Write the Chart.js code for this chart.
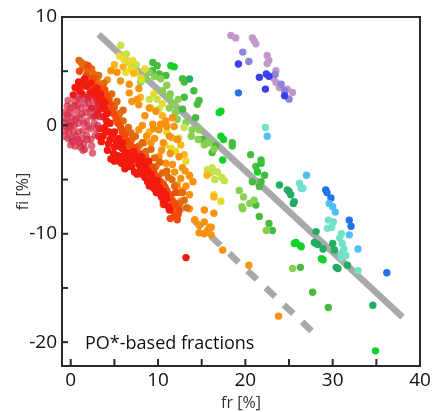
<!DOCTYPE html>
<html>
<head>
<meta charset="utf-8">
<script src="https://cdn.jsdelivr.net/npm/chart.js@4/dist/chart.umd.min.js"></script>
<style>
  html, body { margin: 0; padding: 0; background: #fff; }
  #wrap { width: 437px; height: 412px; }
</style>
</head>
<body>
<div id="wrap"><canvas id="chart" width="437" height="412"></canvas></div>
<script>
// axis ticks
const xTicks = [0, 5, 10, 15, 20, 25, 30, 35, 40];
const yTicks = [-20, -15, -10, -5, 0, 5, 10];

// gray reference lines (fr, fi)
const solidLineX = [3.2, 38.0];
const solidLineY = [8.4, -17.7];
const dashLineX = [9.8, 27.9];
const dashLineY = [-5.5, -19.2];

// points per colour group, [fr, fi]
const crimsonPts = [[-0.6,0.3],[-0.6,-0.5],[-0.4,1.0],[-0.3,-1.2],[-0.2,0.0],[0.0,1.6],[0.0,-1.8],[0.2,0.7],[0.3,-0.6],
  [0.5,2.2],[0.5,-1.9],[0.7,1.3],[0.8,-1.3],[0.9,0.2],[1.1,2.4],[1.1,-2.0],[1.3,1.0],[1.4,-0.5],[1.6,2.0],[1.6,-2.2],
  [1.8,0.4],[1.9,-1.3],[2.1,1.5],[2.2,-0.3],[2.4,-1.9],[2.5,2.3],[2.6,0.8],[2.8,-0.9],[3.0,1.8],[3.1,0.0],[-0.4,1.8],
  [0.1,-1.2],[2.5,-2.55],[-0.7,-1.0],[-0.7,1.2],[-0.5,0.6],[-0.5,-0.1],[-0.2,-0.6],[-0.1,1.2],[0.1,0.3],[0.2,-1.5],
  [0.4,1.8],[0.4,0.0],[0.6,-1.0],[0.6,0.6],[0.8,1.9],[0.9,-0.6],[1.0,-1.6],[1.0,0.7],[1.2,1.6],[1.3,-1.2],[1.5,0.2],
  [1.5,-1.7],[1.7,1.2],[1.8,-0.9],[2.0,2.1],[2.0,-0.1],[2.3,0.9],[2.3,-1.3],[2.7,1.5],[2.7,0.2],[2.9,-0.3],[3.3,0.8],
  [1.8,2.5],[0.9,2.6],[1.4,-2.3],[-0.3,2.3]];
const redPts = [[0.3,2.8],[0.8,3.4],[1.3,2.9],[1.8,3.6],[2.0,2.6],[2.6,3.2],[3.0,2.4],[3.4,2.9],[0.9,4.0],[1.6,4.3],
  [3.4,1.6],[3.9,2.1],[3.7,0.8],[4.2,1.1],[4.5,0.2],[3.3,-0.3],[4.0,-0.6],[3.5,-1.5],[4.5,-1.3],[5.0,-0.6],[4.2,-2.3],
  [5.0,-2.0],[5.5,-1.2],[4.6,-3.1],[5.4,-2.8],[6.0,-2.2],[6.3,-3.3],[6.2,-4.0],[6.8,-2.8],[7.0,-3.8],[7.5,-3.2],
  [7.6,-4.5],[8.0,-4.0],[8.3,-3.4],[8.5,-4.8],[8.8,-4.2],[9.0,-5.6],[9.3,-4.9],[9.6,-5.4],[9.8,-6.2],[10.1,-5.7],
  [10.4,-6.6],[10.6,-7.0],[10.9,-6.4],[11.2,-7.5],[11.3,-7.8],[2.4,1.6],[2.9,0.9],[3.2,-1.0],[5.8,-3.5],[7.2,-2.4],
  [8.1,-2.9],[13.2,-12.2],[0.5,3.5],[1.1,3.1],[1.5,3.8],[2.2,3.0],[2.8,2.7],[3.2,2.0],[3.6,2.4],[3.1,1.2],[3.9,1.5],
  [4.1,0.4],[3.9,-0.2],[3.7,-1.0],[4.3,-1.7],[4.8,-0.9],[4.9,-2.6],[5.2,-1.5],[5.7,-2.0],[5.6,-3.3],[6.1,-2.8],
  [6.5,-2.5],[6.6,-3.8],[7.0,-3.2],[7.3,-4.3],[7.8,-3.6],[8.2,-4.5],[8.6,-3.9],[8.8,-5.2],[9.2,-4.5],[9.5,-5.8],
  [9.9,-5.1],[10.2,-6.3],[10.6,-6.1],[10.8,-7.3],[11.0,-6.8],[3.0,3.4],[2.3,3.9],[4.4,-0.6],[5.9,-1.6],[7.4,-2.8],
  [8.9,-3.3],[6.2,-3.6],[5.0,-3.3]];
const redOrangePts = [[1.0,5.0],[1.8,4.6],[2.4,4.0],[1.2,3.6],[2.9,3.6],[3.6,3.3],[4.1,2.7],[4.6,1.9],[5.0,1.0],[5.4,0.2],
  [5.9,-0.6],[6.4,-1.4],[6.8,-1.8],[7.4,-2.2],[7.9,-2.6],[8.4,-3.0],[9.0,-3.6],[9.5,-4.2],[10.0,-4.8],[10.6,-5.4],
  [11.0,-6.0],[11.4,-6.6],[11.8,-7.1],[11.6,-7.8],[11.9,-8.3],[12.2,-8.7],[10.6,-7.3],[11.4,-8.6],[12.4,-7.8],[12.0,-6.2],
  [2.0,5.5],[2.6,4.3],[3.2,3.0],[3.9,3.3],[4.3,2.2],[4.8,1.4],[5.2,0.6],[5.7,-0.2],[6.2,-0.9],[6.6,-1.8],[7.1,-2.0],
  [7.6,-2.6],[8.1,-3.3],[8.7,-3.5],[9.3,-3.9],[9.7,-4.6],[10.3,-5.2],[10.8,-5.7],[11.2,-6.3],[11.6,-6.9],[12.0,-7.4],
  [12.3,-8.2]];
const darkOrangePts = [[0.95,6.0],[1.4,5.4],[1.9,5.0],[2.2,4.4],[2.7,4.7],[1.4,4.1],[3.0,4.1],[3.5,3.6],[2.3,3.4],[3.8,2.7],
  [4.4,2.4],[4.2,1.5],[5.0,1.7],[5.6,1.1],[5.5,0.6],[6.3,-0.5],[7.0,-1.3],[7.8,-1.9],[8.6,-2.4],[8.6,-2.9],[9.2,-2.2],
  [9.75,-3.8],[10.5,-4.4],[11.2,-4.8],[11.9,-5.6],[12.4,-6.2],[13.0,-6.9],[12.5,-7.2],[13.3,-7.6],[6.6,-0.2],[0.0,-0.06],
  [1.2,5.8],[1.7,5.6],[2.4,5.2],[2.0,4.2],[3.2,4.6],[3.8,3.9],[4.0,2.9],[2.6,3.7],[4.7,2.9],[5.3,2.2],[6.0,1.4],[6.0,0.4],
  [6.9,-0.7],[7.4,-1.0],[8.2,-1.6],[9.6,-3.0],[10.2,-3.4],[11.0,-4.2],[11.6,-5.0],[12.8,-6.2]];
const orangePts = [[4.6,5.05],[5.3,4.9],[5.7,4.1],[4.2,4.2],[6.7,3.0],[7.6,2.4],[7.8,1.9],[9.0,1.6],[9.75,1.3],[8.2,0.0],
  [9.4,0.1],[10.1,-0.4],[7.8,-0.4],[10.9,0.4],[11.65,0.7],[11.85,-0.1],[11.3,-1.0],[12.2,-1.3],[9.2,-1.6],[10.1,-2.9],
  [10.9,-3.5],[12.4,-2.9],[13.6,-4.6],[11.65,-3.6],[12.8,-3.9],[12.2,-5.5],[12.8,-6.0],[13.6,-6.4],[12.6,-7.0],[13.6,-7.7],
  [15.3,-7.8],[16.4,-8.1],[14.2,-8.7],[14.7,-9.2],[15.3,-8.9],[15.65,-9.7],[16.1,-9.4],[16.1,-10.1],[15.3,-10.0],
  [14.7,-9.9],[17.4,-11.5],[20.4,-12.9],[23.8,-17.6],[15.9,-9.4],[8.7,-1.0],[10.6,-1.6],[6.7,3.8],[7.8,3.4],
  [8.4,-1.6],[9.6,-1.2],[10.4,-2.3],[11.4,-2.6],[11.9,-4.3],[12.6,-4.9],[13.2,-5.6],[13.1,-4.2],[14.0,-5.2],[7.0,2.2],
  [8.5,0.9],[9.5,-0.3],[10.3,0.1],[11.0,-0.1]];
const amberPts = [[12.6,-1.8],[13.6,-4.7],[16.4,-6.6],[11.6,-1.15],[6.0,5.4],[5.0,5.6],[7.2,4.8],[8.0,2.6],[10.5,0.9],
  [9.0,-0.6],[13.0,-2.7],[15.6,-4.6]];
const yellowPts = [[5.6,6.4],[6.1,6.1],[6.7,5.8],[7.1,6.0],[6.9,5.2],[6.3,4.9],[7.4,4.9],[8.0,4.4],[8.5,5.2],[11.5,-2.1],
  [12.0,-2.4],[16.4,-6.4],[17.2,-7.0],[10.8,-1.8],[9.5,2.9],[10.5,2.0],[13.2,-3.3],[11.0,-0.6]];
const yellowGreenPts = [[5.73,7.4],[6.4,6.6],[7.5,5.6],[8.1,4.2],[9.0,2.4],[9.9,2.4],[9.2,1.6],[10.1,1.5],[12.4,-1.15],
  [15.65,-4.1],[16.2,-3.9],[16.8,-4.3],[17.3,-4.8],[16.5,-5.0],[17.6,-5.1],[16.05,-4.4],[13.0,-0.2]];
const lightGreenPts = [[8.6,4.3],[9.0,4.9],[9.6,4.5],[10.3,4.3],[11.0,3.7],[10.5,3.2],[11.4,2.9],[12.3,2.4],[11.3,1.6],
  [11.3,2.6],[11.9,2.0],[12.0,1.2],[12.2,0.56],[13.2,0.25],[13.9,-0.4],[14.7,-0.4],[13.8,-1.0],[15.3,-1.8],[15.6,-1.6],
  [14.6,-1.3],[15.9,-1.6],[16.4,-2.2],[19.3,-6.0],[19.8,-6.6],[20.5,-7.2],[21.0,-6.9],[19.6,-7.5],[19.7,-7.7],
  [22.4,-9.7],[25.4,-13.2],[8.0,4.0]];
const greenPts = [[9.4,5.8],[9.9,5.5],[9.36,5.05],[8.98,4.9],[10.14,4.74],[10.9,4.6],[12.8,4.3],[13.0,4.0],[14.1,3.2],
  [14.7,2.3],[14.5,1.95],[13.0,2.6],[12.8,1.5],[14.3,0.7],[15.1,-1.3],[15.5,-1.6],[16.6,-1.9],[16.2,-2.5],[18.5,-1.9],
  [20.6,-2.7],[21.8,-3.2],[21.2,-3.8],[22.2,-4.6],[20.8,-5.2],[21.8,-5.2],[21.6,-5.65],[22.7,-9.05],[21.6,-8.4],
  [21.2,-7.35],[23.1,-9.7],[26.3,-13.1],[27.7,-15.4],[29.5,-16.8],[18.5,-1.6]];
const brightGreenPts = [[11.47,5.5],[11.85,5.4],[17.0,1.18],[17.2,1.3],[17.2,-1.0],[17.5,-1.3],[17.4,-3.2],[21.4,-4.3],
  [25.8,-10.8],[26.3,-11.1],[25.6,-10.9],[26.4,-11.2],[28.7,-12.3],[28.9,-12.4],[34.9,-20.8],[21.8,-3.5]];
const tealPts = [[13.6,4.28],[23.9,-5.5],[24.8,-5.95],[25.0,-6.1],[25.2,-6.4],[25.6,-7.04],[25.5,-7.2],[28.1,-9.8],
  [27.9,-10.8],[28.3,-11.0],[28.9,-11.4],[30.0,-10.9],[30.4,-13.1],[30.6,-13.2],[31.7,-12.9],[34.6,-16.6],[28.1,-10.9],
  [30.2,-11.5]];
const aquaPts = [[26.2,-5.33],[26.4,-5.8],[26.6,-5.8],[29.5,-8.74],[30.1,-8.9],[29.4,-9.5],[29.9,-9.4],[31.0,-10.0],
  [30.8,-10.4],[31.1,-10.9],[31.3,-11.4],[31.0,-11.8],[31.5,-12.0],[32.9,-13.4],[31.0,-12.2],[22.3,-0.2]];
const skyPts = [[22.5,-1.0],[27.0,-4.6],[29.6,-7.2],[30.0,-7.5],[30.3,-8.0],[31.9,-10.1],[32.9,-11.4]];
const bluePts = [[19.2,3.0],[29.2,-5.95],[29.35,-6.2],[29.8,-6.7],[31.9,-8.74],[32.1,-9.3],[36.2,-13.6]];
const indigoPts = [[19.2,5.67],[21.6,4.43],[22.4,4.74],[22.7,4.53],[22.3,3.35],[24.5,2.73]];
const periwinklePts = [[19.7,6.76],[20.4,5.89],[23.4,4.7],[24.1,3.8],[25.0,2.42],[24.5,3.2]];
const mauvePts = [[18.35,8.3],[18.9,8.07],[20.8,8.07],[21.0,7.8],[21.2,7.53],[22.5,6.45],[22.7,5.98],[22.5,5.7],
  [23.5,5.05],[23.5,3.97],[23.9,3.5],[24.8,3.35],[25.4,3.04],[23.2,4.4]];

const groups = [
  [crimsonPts, 'rgba(214,44,72,0.72)'],
  [redPts, '#f21a0e'],
  [redOrangePts, '#f24a0a'],
  [darkOrangePts, '#e2690c'],
  [orangePts, '#f9920e'],
  [amberPts, '#fbb41e'],
  [yellowPts, '#e8dc2a'],
  [yellowGreenPts, '#c6e24c'],
  [lightGreenPts, '#88d050'],
  [greenPts, '#46bb3e'],
  [brightGreenPts, '#14d12a'],
  [tealPts, '#22ad62'],
  [aquaPts, '#72e2c8'],
  [skyPts, '#4ec0f2'],
  [bluePts, '#2274e8'],
  [indigoPts, '#3c3cf0'],
  [periwinklePts, '#8a86dc'],
  [mauvePts, '#c29aca']
];

const datasets = groups.map(([pts, color]) => ({
  type: 'scatter',
  data: pts.map(p => ({ x: p[0], y: p[1] })),
  backgroundColor: color,
  borderWidth: 0,
  pointRadius: 3.7,
  pointHoverRadius: 3.7,
  order: 1
}));

datasets.push({
  type: 'line',
  data: solidLineX.map((v, i) => ({ x: v, y: solidLineY[i] })),
  borderColor: '#a9a9a9',
  borderWidth: 6.5,
  pointRadius: 0,
  order: 5
});
datasets.push({
  type: 'line',
  data: dashLineX.map((v, i) => ({ x: v, y: dashLineY[i] })),
  borderColor: '#a9a9a9',
  borderWidth: 6.5,
  borderDash: [13, 12],
  pointRadius: 0,
  order: 5
});

// frame, inward ticks, axis titles, note
const framePlugin = {
  id: 'frame',
  afterDraw(chart) {
    const { ctx, chartArea: a, scales: { x, y } } = chart;
    ctx.save();
    ctx.strokeStyle = '#2a2a2a';
    ctx.lineWidth = 2;
    ctx.strokeRect(a.left, a.top, a.right - a.left, a.bottom - a.top);
    xTicks.forEach(v => {
      const px = x.getPixelForValue(v);
      ctx.beginPath(); ctx.moveTo(px, a.bottom); ctx.lineTo(px, a.bottom - 7); ctx.stroke();
    });
    yTicks.forEach(v => {
      const py = y.getPixelForValue(v);
      ctx.beginPath(); ctx.moveTo(a.left, py); ctx.lineTo(a.left + 6, py); ctx.stroke();
    });

    ctx.fillStyle = '#111';
    ctx.font = '18px "Open Sans"';
    ctx.textAlign = 'left';
    ctx.textBaseline = 'alphabetic';
    ctx.fillText('PO*-based fractions', a.left + 23, a.bottom - 17);

    ctx.font = '16px "Open Sans"';
    ctx.textAlign = 'center';
    ctx.textBaseline = 'middle';
    ctx.fillStyle = '#333';
    ctx.fillText('fr [%]', (a.left + a.right) / 2, 403);
    ctx.translate(23, (a.top + a.bottom) / 2);
    ctx.rotate(-Math.PI / 2);
    ctx.fillText('fi [%]', 0, 0);
    ctx.restore();
  }
};

const labelFont = { family: '"Open Sans"', size: 19 };

new Chart(document.getElementById('chart'), {
  data: { datasets },
  options: {
    responsive: false,
    animation: false,
    layout: { padding: { left: 0, top: 17, right: 17, bottom: 0 } },
    plugins: { legend: { display: false }, tooltip: { enabled: false } },
    scales: {
      x: {
        type: 'linear',
        min: -1,
        max: 40,
        afterBuildTicks: s => { s.ticks = xTicks.map(v => ({ value: v })); },
        afterFit: s => { s.height = 46; },
        ticks: {
          callback: v => (v % 10 === 0 ? v : ''),
          font: labelFont, color: '#111', padding: 3, maxRotation: 0, autoSkip: false
        },
        grid: { display: false, drawTicks: false },
        border: { display: false }
      },
      y: {
        type: 'linear',
        min: -22.2,
        max: 10,
        afterBuildTicks: s => { s.ticks = yTicks.map(v => ({ value: v })); },
        afterFit: s => { s.width = 62; },
        ticks: {
          callback: v => (v % 10 === 0 ? v : ''),
          font: labelFont, color: '#111', padding: 5, autoSkip: false
        },
        grid: { display: false, drawTicks: false },
        border: { display: false }
      }
    }
  },
  plugins: [framePlugin]
});
</script>
</body>
</html>
